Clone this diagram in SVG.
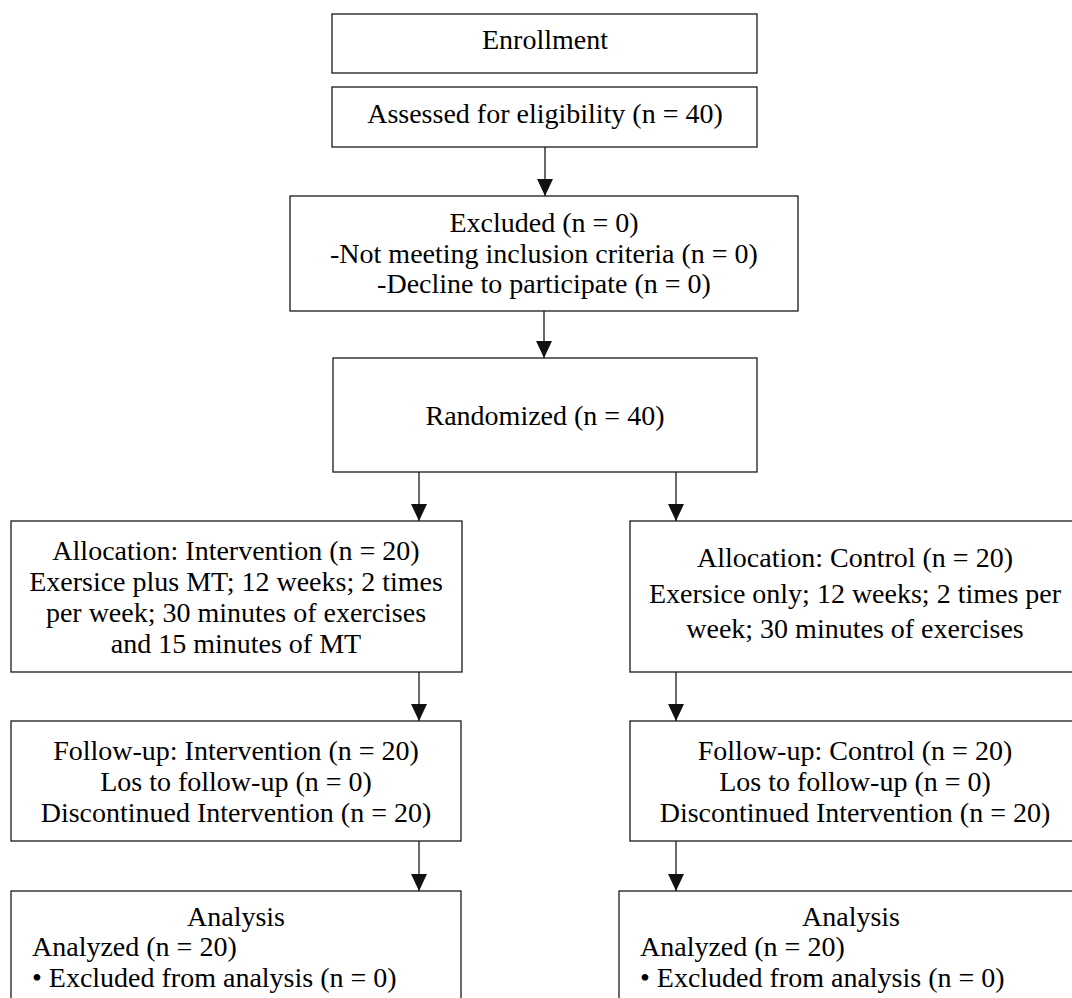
<svg xmlns="http://www.w3.org/2000/svg" width="1072" height="998" viewBox="0 0 1072 998">
<defs>
<style>
.box{fill:#ffffff;stroke:#1a1a1a;stroke-width:1.3}
.t{font-family:"Liberation Serif","Times New Roman",serif;font-size:28px;fill:#000000}
.c{text-anchor:middle}
.conn{stroke:#1a1a1a;stroke-width:1.3;fill:none;marker-end:url(#ah)}
</style>
<marker id="ah" markerUnits="userSpaceOnUse" markerWidth="17" markerHeight="16" refX="16" refY="7.5" orient="auto" viewBox="0 0 16 15">
<path d="M0,0 L16,7.5 L0,15 Z" fill="#111111"/>
</marker>
</defs>
<rect width="1072" height="998" fill="#ffffff"/>
<g id="connectors">
<line class="conn" x1="545" y1="147" x2="545" y2="196"/>
<line class="conn" x1="544" y1="311" x2="544" y2="358"/>
<line class="conn" x1="419" y1="472" x2="419" y2="521"/>
<line class="conn" x1="676" y1="472" x2="676" y2="521"/>
<line class="conn" x1="419" y1="672" x2="419" y2="721"/>
<line class="conn" x1="676" y1="672" x2="676" y2="721"/>
<line class="conn" x1="419" y1="841" x2="419" y2="891"/>
<line class="conn" x1="676" y1="841" x2="676" y2="891"/>
</g>
<g id="enrollment">
<rect class="box" x="332" y="14" width="425" height="59"/>
<text class="t c" x="545" y="49">Enrollment</text>
</g>
<g id="assessed">
<rect class="box" x="332" y="87" width="425" height="60"/>
<text class="t c" x="545" y="123">Assessed for eligibility (n = 40)</text>
</g>
<g id="excluded">
<rect class="box" x="290" y="196" width="508" height="115"/>
<text class="t c" x="544" y="232">Excluded (n = 0)</text>
<text class="t c" x="544" y="263">-Not meeting inclusion criteria (n = 0)</text>
<text class="t c" x="544" y="293">-Decline to participate (n = 0)</text>
</g>
<g id="randomized">
<rect class="box" x="333" y="358" width="424" height="114"/>
<text class="t c" x="545" y="425">Randomized (n = 40)</text>
</g>
<g id="alloc-intervention">
<rect class="box" x="11" y="521" width="451" height="151"/>
<text class="t c" x="236" y="560">Allocation: Intervention (n = 20)</text>
<text class="t c" x="236" y="591">Exersice plus MT; 12 weeks; 2 times</text>
<text class="t c" x="236" y="622">per week; 30 minutes of exercises</text>
<text class="t c" x="236" y="653">and 15 minutes of MT</text>
</g>
<g id="alloc-control">
<rect class="box" x="630" y="521" width="450" height="151"/>
<text class="t c" x="855" y="567">Allocation: Control (n = 20)</text>
<text class="t c" x="855" y="603">Exersice only; 12 weeks; 2 times per</text>
<text class="t c" x="855" y="638">week; 30 minutes of exercises</text>
</g>
<g id="followup-intervention">
<rect class="box" x="11" y="721" width="450" height="120"/>
<text class="t c" x="236" y="760">Follow-up: Intervention (n = 20)</text>
<text class="t c" x="236" y="791">Los to follow-up (n = 0)</text>
<text class="t c" x="236" y="822">Discontinued Intervention (n = 20)</text>
</g>
<g id="followup-control">
<rect class="box" x="630" y="721" width="450" height="120"/>
<text class="t c" x="855" y="760">Follow-up: Control (n = 20)</text>
<text class="t c" x="855" y="791">Los to follow-up (n = 0)</text>
<text class="t c" x="855" y="822">Discontinued Intervention (n = 20)</text>
</g>
<g id="analysis-intervention">
<rect class="box" x="11" y="891" width="450" height="130"/>
<text class="t c" x="236" y="926">Analysis</text>
<text class="t" x="32" y="956">Analyzed (n = 20)</text>
<text class="t" x="32" y="987">• Excluded from analysis (n = 0)</text>
</g>
<g id="analysis-control">
<rect class="box" x="619" y="891" width="464" height="130"/>
<text class="t c" x="851" y="926">Analysis</text>
<text class="t" x="640" y="956">Analyzed (n = 20)</text>
<text class="t" x="640" y="987">• Excluded from analysis (n = 0)</text>
</g>
</svg>
